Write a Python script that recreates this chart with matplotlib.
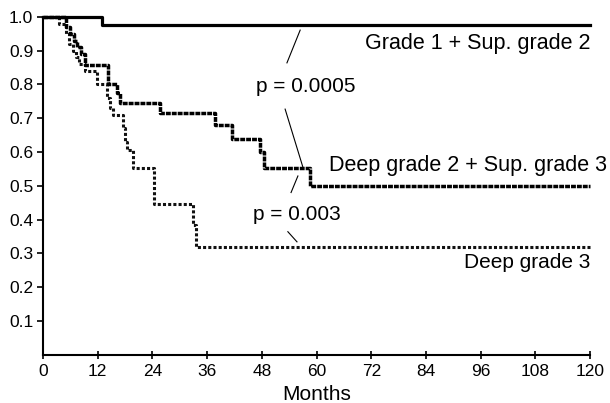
import matplotlib.pyplot as plt

# Kaplan-Meier curves (months, survival)
months_g1 = [0, 12.9, 120]
surv_g1 = [1.0, 0.976, 0.976]

months_mid = [0, 5.0, 6.0, 6.8, 7.5, 8.3, 9.2, 14.2, 16.2, 16.9, 25.6, 37.7, 41.4, 47.6, 48.4, 58.5, 120]
surv_mid = [1.0, 0.97, 0.95, 0.93, 0.91, 0.89, 0.857, 0.80, 0.776, 0.745, 0.715, 0.68, 0.638, 0.60, 0.552, 0.50, 0.50]

months_g3 = [0, 3.4, 5.0, 5.8, 6.5, 7.2, 8.0, 9.2, 11.8, 14.0, 14.8, 15.4, 17.6, 18.0, 18.4, 19.8, 24.3, 33.0, 33.6, 120]
surv_g3 = [1.0, 0.98, 0.95, 0.92, 0.90, 0.88, 0.86, 0.84, 0.80, 0.76, 0.73, 0.71, 0.67, 0.63, 0.606, 0.553, 0.446, 0.385, 0.318, 0.318]

x_ticks = [0, 12, 24, 36, 48, 60, 72, 84, 96, 108, 120]
y_ticks = [0.1, 0.2, 0.3, 0.4, 0.5, 0.6, 0.7, 0.8, 0.9, 1.0]

plt.rcParams["font.family"] = ["Liberation Sans", "DejaVu Sans"]

fig = plt.figure(figsize=(6.1, 4.03), dpi=100)
ax = fig.add_axes([0.0705, 0.12, 0.897, 0.838])

ax.step(months_g3, surv_g3, where="post", color="#111111", lw=2.2,
        dashes=(1.0, 0.7), clip_on=False)
ax.step(months_mid, surv_mid, where="post", color="black", lw=2.5,
        dashes=(1.4, 0.3), clip_on=False)
ax.step(months_g1, surv_g1, where="post", color="black", lw=2.3, clip_on=False)

# p-value annotations with their connector strokes
ax.text(57.7, 0.795, "p = 0.0005", ha="center", va="center", fontsize=15)
ax.plot([56.4, 53.5], [0.961, 0.864], color="black", lw=0.8)
ax.plot([53.1, 57.0], [0.727, 0.555], color="black", lw=0.8)

ax.text(55.6, 0.415, "p = 0.003", ha="center", va="center", fontsize=15)
ax.plot([55.9, 54.4], [0.529, 0.48], color="black", lw=0.8)
ax.plot([53.7, 55.7], [0.364, 0.334], color="black", lw=0.8)

ax.text(120, 0.92, "Grade 1 + Sup. grade 2", ha="right", va="center", fontsize=15.5)
ax.text(123.7, 0.56, "Deep grade 2 + Sup. grade 3", ha="right", va="center",
        fontsize=15.5, clip_on=False)
ax.text(120, 0.272, "Deep grade 3", ha="right", va="center", fontsize=15)

ax.set_xlim(0, 120)
ax.set_ylim(0, 1.0)
ax.set_xticks(x_ticks)
ax.set_yticks(y_ticks)
ax.set_xticklabels([str(t) for t in x_ticks], fontsize=12.5)
ax.set_yticklabels([f"{t:.1f}" for t in y_ticks], fontsize=12.5)
ax.tick_params(axis="x", direction="inout", length=6, width=1.2, pad=4)
ax.tick_params(axis="y", direction="out", length=4, width=1.2, pad=3)
ax.set_xlabel("Months", fontsize=15)
ax.xaxis.set_label_coords(0.5, -0.09)

for side in ["top", "right"]:
    ax.spines[side].set_visible(False)
for side in ["left", "bottom"]:
    ax.spines[side].set_linewidth(1.5)

fig.savefig("out.png", dpi=100)
